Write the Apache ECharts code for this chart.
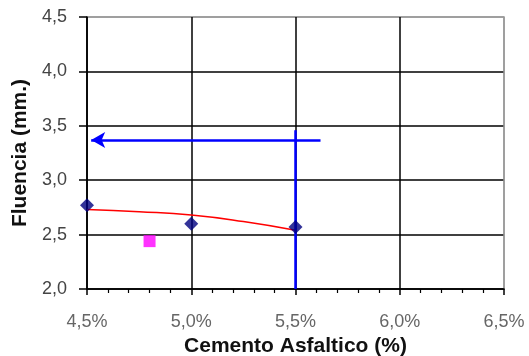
<!DOCTYPE html>
<html>
<head>
<meta charset="utf-8">
<script src="https://cdn.jsdelivr.net/npm/echarts@6/dist/echarts.min.js"></script>
<style>
  html, body { margin: 0; padding: 0; background: #fff; }
  #chart { width: 529px; height: 356px; }
</style>
</head>
<body>
<div id="chart"></div>
<script>
// ensayos Marshall: fluencia vs % cemento asfaltico
const pctCemento = [4.5, 5.0, 5.5]
const fluencia = [2.77, 2.60, 2.57]

// curva de ajuste
const curvaX = [4.5, 4.75, 5.0, 5.25, 5.5]
const curvaY = [2.73, 2.71, 2.68, 2.62, 2.54]

// punto de diseño
const disenoX = [4.8]
const disenoY = [2.44]

// linea vertical y flecha
const verticalX = [5.5, 5.5]
const verticalY = [2.0, 3.46]
const flechaX = [5.62, 4.52]
const flechaY = [3.37, 3.37]

const fmt = (v, suf) => v.toFixed(1).replace('.', ',') + (suf || '')

const chart = echarts.init(document.getElementById('chart'))

const option = {
  animation: false,
  backgroundColor: '#fff',
  textStyle: { fontFamily: 'Liberation Sans, Arial, sans-serif' },
  grid: {
    left: 87, right: 25, top: 17, bottom: 67,
    outerBoundsMode: 'none',
    containLabel: false,
    show: true,
    borderColor: '#999',
    borderWidth: 1.5
  },
  xAxis: {
    type: 'value',
    min: 4.5, max: 6.5, interval: 0.5,
    name: 'Cemento Asfaltico (%)',
    nameLocation: 'middle',
    nameGap: 42,
    nameTextStyle: { fontSize: 21, fontWeight: 'bold', color: '#111' },
    axisLine: { lineStyle: { color: '#000', width: 1.5 } },
    axisTick: { length: 6, lineStyle: { color: '#000', width: 1.5 } },
    minorTick: { show: true, splitNumber: 5, length: 4, lineStyle: { color: '#000', width: 1.2 } },
    axisLabel: { fontSize: 18, color: '#666', margin: 24, formatter: v => fmt(v, '%') },
    splitLine: { show: true, lineStyle: { color: ['#000', '#000', '#000', '#000', '#999'], width: 1.5 } }
  },
  yAxis: {
    type: 'value',
    min: 2.0, max: 4.5, interval: 0.5,
    name: 'Fluencia (mm.)',
    nameLocation: 'middle',
    nameGap: 50,
    nameTextStyle: { fontSize: 21, fontWeight: 'bold', color: '#111' },
    axisLine: { show: true, lineStyle: { color: '#000', width: 1.5 } },
    axisTick: { show: true, length: 8, lineStyle: { color: '#000', width: 1.5 } },
    axisLabel: { fontSize: 18, color: '#444', margin: 20, formatter: v => fmt(v) },
    splitLine: { show: true, lineStyle: { color: ['#000', '#000', '#000', '#000', '#000', '#999'], width: 1.5 } }
  },
  series: [
    {
      name: 'curva',
      type: 'line',
      smooth: true,
      symbol: 'none',
      data: curvaX.map((x, i) => [x, curvaY[i]]),
      lineStyle: { color: '#ff0000', width: 1.5 },
      z: 3
    },
    {
      name: 'vertical',
      type: 'line',
      symbol: 'none',
      data: verticalX.map((x, i) => [x, verticalY[i]]),
      lineStyle: { color: '#0000ff', width: 2.5 },
      z: 4,
      markLine: {
        silent: true,
        symbol: ['none', 'arrow'],
        symbolSize: [12, 14],
        label: { show: false },
        lineStyle: { color: '#0000ff', width: 2.5, type: 'solid' },
        data: [[
          { coord: [flechaX[0], flechaY[0]] },
          { coord: [flechaX[1], flechaY[1]] }
        ]]
      }
    },
    {
      name: 'ensayos',
      type: 'scatter',
      symbol: 'diamond',
      symbolSize: 14,
      data: pctCemento.map((x, i) => [x, fluencia[i]]),
      itemStyle: { color: '#000080' },
      z: 5
    },
    {
      name: 'diseno',
      type: 'scatter',
      symbol: 'rect',
      symbolSize: 12,
      data: disenoX.map((x, i) => [x, disenoY[i]]),
      itemStyle: { color: '#ff00ff' },
      z: 5
    }
  ]
}

chart.setOption(option)
</script>
</body>
</html>
